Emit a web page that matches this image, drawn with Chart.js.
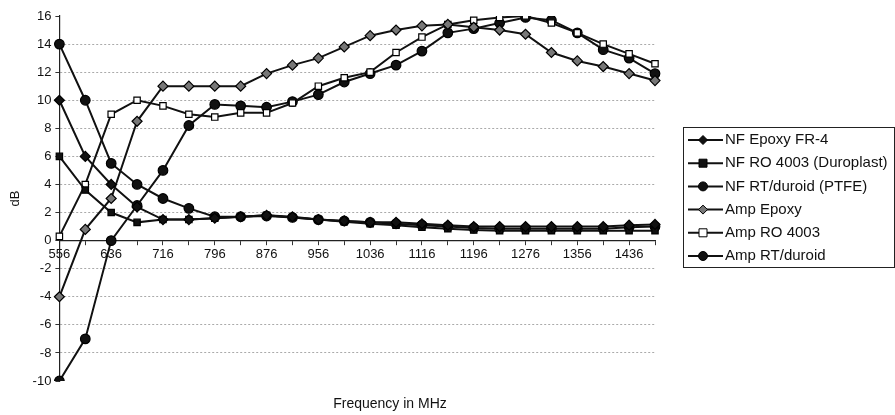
<!DOCTYPE html>
<html>
<head>
<meta charset="utf-8">
<script src="https://cdn.jsdelivr.net/npm/chart.js@4"></script>
<style>
  html, body { margin: 0; padding: 0; background: #fff; }
  #wrap { width: 895px; height: 415px; }
</style>
</head>
<body>
<div id="wrap"><canvas id="chart" width="895" height="415"></canvas></div>
<script>
// frequencies (MHz), one point every 40 MHz
const freqs = [556, 596, 636, 676, 716, 756, 796, 836, 876, 916, 956, 996,
               1036, 1076, 1116, 1156, 1196, 1236, 1276, 1316, 1356, 1396, 1436, 1476];

// values in dB
const nfEpoxy  = [10, 6, 4, 2.4, 1.5, 1.5, 1.6, 1.7, 1.8, 1.7, 1.5, 1.4, 1.3, 1.3, 1.2, 1.1, 1.0, 1.0, 1.0, 1.0, 1.0, 1.0, 1.1, 1.15];
const nfRO     = [6, 3.6, 2.0, 1.3, 1.5, 1.5, 1.6, 1.7, 1.8, 1.65, 1.5, 1.35, 1.2, 1.1, 0.95, 0.85, 0.75, 0.7, 0.7, 0.7, 0.7, 0.7, 0.7, 0.7];
const nfRT     = [14, 10, 5.5, 4.0, 3.0, 2.3, 1.7, 1.7, 1.75, 1.65, 1.5, 1.4, 1.3, 1.2, 1.1, 1.0, 0.9, 0.85, 0.85, 0.85, 0.85, 0.85, 0.95, 1.0];
const ampEpoxy = [-4, 0.8, 3.0, 8.5, 11, 11, 11, 11, 11.9, 12.5, 13.0, 13.8, 14.6, 15.0, 15.3, 15.4, 15.2, 15.0, 14.7, 13.4, 12.8, 12.4, 11.9, 11.4];
const ampRO    = [0.3, 4.0, 9.0, 10.0, 9.6, 9.0, 8.8, 9.1, 9.1, 9.8, 11.0, 11.6, 12.0, 13.4, 14.5, 15.4, 15.7, 15.9, 16.0, 15.5, 14.8, 14.0, 13.3, 12.6];
const ampRT    = [-10, -7, 0, 2.5, 5.0, 8.2, 9.7, 9.6, 9.5, 9.9, 10.4, 11.3, 11.9, 12.5, 13.5, 14.8, 15.1, 15.5, 15.9, 15.7, 14.8, 13.6, 13.0, 11.9];

const seriesNames = ['NF Epoxy FR-4', 'NF RO 4003 (Duroplast)', 'NF RT/duroid (PTFE)',
                     'Amp Epoxy', 'Amp RO 4003', 'Amp RT/duroid'];
const yTitle = 'dB';
const xTitle = 'Frequency in MHz';

const FONT = '"Liberation Sans", Arial, sans-serif';

function makeSet(label, data, style, fill, radius) {
    return {
        label: label,
        data: data,
        borderColor: '#111',
        borderWidth: 2,
        backgroundColor: fill,
        pointStyle: style,
        pointRadius: radius,
        pointHoverRadius: radius,
        pointBorderColor: '#000',
        pointBackgroundColor: fill,
        pointBorderWidth: 1.2,
        tension: 0,
        fill: false
    };
}

const datasets = [
    makeSet(seriesNames[0], nfEpoxy, 'rectRot', '#111', 5),
    makeSet(seriesNames[1], nfRO, 'rect', '#111', 4.5),
    makeSet(seriesNames[2], nfRT, 'circle', '#111', 4.8),
    makeSet(seriesNames[3], ampEpoxy, 'rectRot', '#777', 5),
    makeSet(seriesNames[4], ampRO, 'rect', '#fff', 4.5),
    makeSet(seriesNames[5], ampRT, 'circle', '#111', 4.8)
];

// draws the framed legend on the right and the bottom axis title
const sideLegend = {
    id: 'sideLegend',
    afterDraw(chart) {
        const ctx = chart.ctx;
        const box = { l: 683, t: 127, r: 894, b: 267 };
        ctx.save();
        ctx.strokeStyle = '#222';
        ctx.lineWidth = 1;
        ctx.strokeRect(box.l + 0.5, box.t + 0.5, box.r - box.l, box.b - box.t);

        ctx.font = '15px ' + FONT;
        ctx.textBaseline = 'middle';
        chart.data.datasets.forEach((ds, i) => {
            const y = 140 + i * 23.2;
            ctx.strokeStyle = '#111';
            ctx.lineWidth = 2;
            ctx.beginPath(); ctx.moveTo(688, y); ctx.lineTo(723, y); ctx.stroke();
            const cx = 703;
            ctx.fillStyle = ds.pointBackgroundColor;
            ctx.strokeStyle = '#000';
            ctx.lineWidth = 1;
            ctx.beginPath();
            if (ds.pointStyle === 'rectRot') {
                ctx.moveTo(cx, y - 4.5); ctx.lineTo(cx + 4.5, y); ctx.lineTo(cx, y + 4.5); ctx.lineTo(cx - 4.5, y); ctx.closePath();
            } else if (ds.pointStyle === 'rect') {
                ctx.rect(cx - 4, y - 4, 8, 8);
            } else {
                ctx.arc(cx, y, 4.5, 0, Math.PI * 2);
            }
            ctx.fill(); ctx.stroke();
            ctx.fillStyle = '#111';
            ctx.fillText(ds.label, 725, y);
        });

        ctx.font = '14px ' + FONT;
        ctx.textAlign = 'center';
        ctx.fillText(xTitle, 390, 404);
        ctx.restore();
    }
};

new Chart(document.getElementById('chart'), {
    type: 'line',
    data: { labels: freqs, datasets: datasets },
    options: {
        responsive: false,
        animation: false,
        devicePixelRatio: 1,
        layout: { padding: { top: 16, right: 240, bottom: 34, left: 8 } },
        plugins: {
            tooltip: { enabled: false },
            legend: { display: false }
        },
        scales: {
            x: {
                position: { y: 0 },
                offset: false,
                grid: { drawOnChartArea: false, drawTicks: true, tickLength: 4, color: '#333' },
                border: { display: true, color: '#222', width: 1.2 },
                ticks: {
                    autoSkip: false,
                    maxRotation: 0,
                    padding: 2,
                    color: '#111',
                    font: { family: FONT, size: 13 },
                    callback: (v, i) => (i % 2 === 0 ? freqs[i] : '')
                }
            },
            y: {
                min: -10,
                max: 16,
                ticks: {
                    stepSize: 2,
                    color: '#111',
                    padding: 4,
                    font: { family: FONT, size: 13 }
                },
                grid: {
                    color: ctx => (ctx.tick && (ctx.tick.value === 16 || ctx.tick.value === -10) ? 'rgba(0,0,0,0)' : '#aaa'),
                    tickColor: '#333',
                    tickLength: 4,
                    lineWidth: 1
                },
                border: { display: true, color: '#222', width: 1.2, dash: [2, 2] },
                title: {
                    display: true,
                    text: yTitle,
                    color: '#111',
                    font: { family: FONT, size: 13 },
                    padding: { top: 0, bottom: 5 }
                }
            }
        }
    },
    plugins: [sideLegend]
});
</script>
</body>
</html>
